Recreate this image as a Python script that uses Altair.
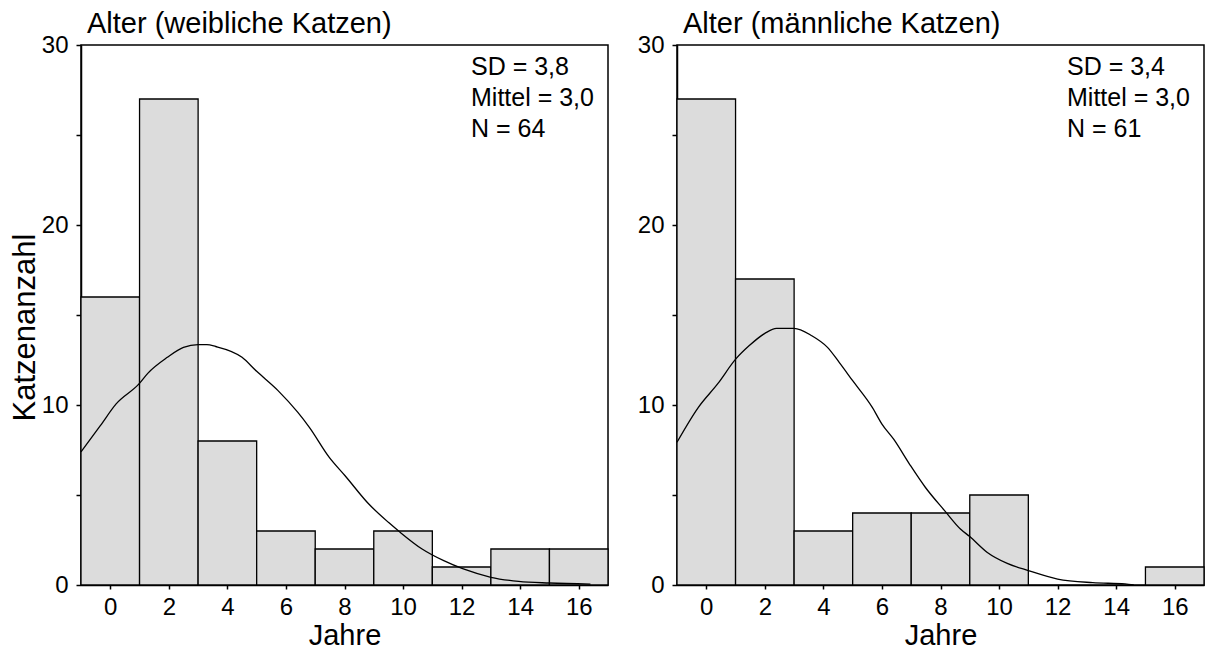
import altair as alt
import pandas as pd

FONT = "Liberation Sans"

# ---- data ----
bin_start = [-1, 1, 3, 5, 7, 9, 11, 13, 15]
bin_end = [1, 3, 5, 7, 9, 11, 13, 15, 17]
female_counts = [16, 27, 8, 3, 2, 3, 1, 2, 2]
male_counts = [27, 17, 3, 4, 4, 5, 0, 0, 1]

female_curve_x = [-1.0, -0.34, 0.2, 0.98, 1.28, 1.95, 2.5, 3.0, 3.3, 3.6, 4.5, 5.0, 5.73,
                  6.4, 6.8, 7.48, 8.02, 8.83, 9.5, 9.9, 10.65, 11.39, 12.06, 13.0, 13.95,
                  15.0, 16.4]
female_curve_y = [7.4, 8.85, 10.06, 11.17, 11.76, 12.65, 13.2, 13.35, 13.35, 13.25, 12.65,
                  11.87, 10.8, 9.6, 8.76, 7.09, 6.07, 4.5, 3.48, 2.93, 2.0, 1.35, 0.89, 0.43,
                  0.2, 0.11, 0.05]

male_curve_x = [-1.0, -0.27, 0.4, 1.01, 1.47, 2.0, 2.4, 3.0, 3.6, 4.14, 4.54, 5.0, 5.67,
                6.0, 6.4, 6.94, 7.48, 8.14, 8.68, 9.0, 9.6, 10.28, 11.0, 12.0, 13.2, 14.3,
                14.6]
male_curve_y = [7.93, 9.87, 11.2, 12.56, 13.3, 13.98, 14.26, 14.26, 13.85, 13.2, 12.37,
                11.35, 9.87, 8.94, 8.1, 6.72, 5.43, 4.13, 3.11, 2.69, 1.81, 1.2, 0.8, 0.33,
                0.13, 0.06, 0.0]

female_stats = ["SD = 3,8", "Mittel = 3,0", "N = 64"]
male_stats = ["SD = 3,4", "Mittel = 3,0", "N = 61"]
panel_titles = ["Alter (weibliche Katzen)", "Alter (männliche Katzen)"]
x_ticks = [0, 2, 4, 6, 8, 10, 12, 14, 16]
y_ticks = [0, 5, 10, 15, 20, 25, 30]
x_title = "Jahre"
y_title = "Katzenanzahl"

W, H = 527, 540


def panel(counts, cx, cy, stats, title, ytitle):
    bars_df = pd.DataFrame({"start": bin_start, "end": bin_end, "count": counts})
    bars_df = bars_df[bars_df["count"] > 0]
    line_df = pd.DataFrame({"start": cx, "count": cy})
    text_df = pd.DataFrame({"t": ["|".join(stats)]})

    xscale = alt.Scale(domain=[-1, 17], nice=False, zero=False)
    yscale = alt.Scale(domain=[0, 30], nice=False)
    xaxis = alt.Axis(values=x_ticks, title=x_title)
    yaxis = alt.Axis(values=y_ticks, title=ytitle, titleY=282, titleFontSize=31,
                     labelExpr="datum.value % 10 == 0 ? datum.label : ''")

    bars = alt.Chart(bars_df).mark_rect(
        fill="#dcdcdc", stroke="black", strokeWidth=1.3
    ).encode(
        x=alt.X("start:Q", scale=xscale, axis=xaxis),
        x2="end:Q",
        y=alt.Y("count:Q", scale=yscale, axis=yaxis),
        y2=alt.datum(0),
    )
    line = alt.Chart(line_df).mark_line(
        color="black", strokeWidth=1.3, interpolate="monotone"
    ).encode(
        x=alt.X("start:Q", scale=xscale, axis=xaxis),
        y=alt.Y("count:Q", scale=yscale, axis=yaxis),
        order="start:Q",
    )
    text = alt.Chart(text_df).mark_text(
        align="left", baseline="alphabetic", font=FONT, fontSize=25,
        color="black", lineBreak="|", lineHeight=31
    ).encode(
        x=alt.value(390), y=alt.value(30), text="t:N"
    )
    return alt.layer(bars, line, text).properties(
        width=W, height=H,
        title=alt.Title(title, anchor="start", frame="group", font=FONT, fontSize=29,
                        fontWeight="normal", color="black", dx=6, offset=-6),
    )


left = panel(female_counts, female_curve_x, female_curve_y, female_stats,
             panel_titles[0], y_title)
right = panel(male_counts, male_curve_x, male_curve_y, male_stats,
              panel_titles[1], "")

chart = alt.hconcat(left, right, spacing=26).properties(
    padding={"left": 0, "top": 1, "right": 0, "bottom": 0}
).configure_view(
    stroke="black", strokeWidth=1.5
).configure_axis(
    grid=False,
    labelFont=FONT, labelFontSize=24, labelColor="black",
    titleFont=FONT, titleFontSize=29, titleFontWeight="normal", titleColor="black",
    domainColor="black", domainWidth=1.5, tickColor="black", tickWidth=1.5,
).configure_axisX(
    tickSize=4, labelPadding=6, titlePadding=2,
).configure_axisY(
    tickSize=5, labelPadding=8, titlePadding=0,
)

chart.save("out.html", embed_options={"renderer": "svg", "actions": False})
